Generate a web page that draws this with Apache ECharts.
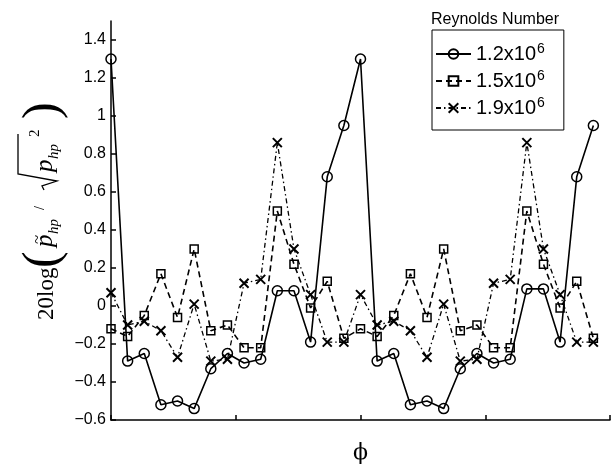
<!DOCTYPE html>
<html>
<head>
<meta charset="utf-8">
<script src="https://cdn.jsdelivr.net/npm/echarts@6/dist/echarts.min.js"></script>
<style>
  html, body { margin: 0; padding: 0; background: #fff; }
  #chart { width: 616px; height: 469px; }
</style>
</head>
<body>
<div id="chart"></div>
<script>
// phi positions (one point per step)
const phi = [0,1,2,3,4,5,6,7,8,9,10,11,12,13,14,15,16,17,18,19,20,21,22,23,24,25,26,27,28,29];

// Re = 1.2x10^6 (circles, solid)
const re12 = [1.30,-0.29,-0.25,-0.52,-0.50,-0.54,-0.33,-0.25,-0.30,-0.28,0.08,0.08,-0.19,0.68,0.95,
              1.30,-0.29,-0.25,-0.52,-0.50,-0.54,-0.33,-0.25,-0.30,-0.28,0.09,0.09,-0.19,0.68,0.95];
// Re = 1.5x10^6 (squares, dashed)
const re15 = [-0.12,-0.16,-0.05,0.17,-0.06,0.30,-0.13,-0.10,-0.22,-0.22,0.50,0.22,-0.01,0.13,-0.17,
              -0.12,-0.16,-0.05,0.17,-0.06,0.30,-0.13,-0.10,-0.22,-0.22,0.50,0.22,-0.01,0.13,-0.17];
// Re = 1.9x10^6 (crosses, dash-dot)
const re19 = [0.07,-0.10,-0.08,-0.13,-0.27,0.01,-0.29,-0.28,0.12,0.14,0.86,0.30,0.06,-0.19,-0.19,
              0.06,-0.10,-0.08,-0.13,-0.27,0.01,-0.29,-0.28,0.12,0.14,0.86,0.30,0.06,-0.19,-0.19];

const legendNames = ['1.2x10^6', '1.5x10^6', '1.9x10^6'];

const pairs = (ys) => phi.map((x, i) => [x, ys[i]]);

const chart = echarts.init(document.getElementById('chart'));

const serif = 'Liberation Serif';
// y given is the bottom of the text box
const txt = (s, x, y, size, italic) => ({
    type: 'text', x: x, y: y,
    style: {
        text: s, fill: '#000', font: (italic ? 'italic ' : '') + size + 'px "' + serif + '"',
        verticalAlign: 'bottom'
    }
});

// y axis title: 20log( p~_hp / sqrt(overline(p_hp^2)) ), laid out along the text and rotated
const yTitle = {
    type: 'group',
    x: 0,
    y: 320,
    rotation: Math.PI / 2,
    children: [
        txt('20log', 0, 58, 23, false),
        txt('(', 52, 69, 50, false),
        txt('p', 73, 58, 25, true),
        txt('~', 76, 46, 17, false),
        txt('hp', 86, 62, 15, true),
        txt('/', 110, 47, 14, false),
        {
            type: 'polyline',
            shape: { points: [[130, 44], [134, 42], [139, 57], [146, 18], [186, 18]] },
            style: { stroke: '#000', lineWidth: 1.3, fill: null }
        },
        txt('p', 148, 58, 25, true),
        txt('hp', 161, 62, 15, true),
        txt('2', 183, 43, 15, false),
        txt(')', 201, 69, 50, false)
    ]
};

chart.setOption({
    backgroundColor: '#fff',
    animation: false,
    grid: { left: 111, right: 6, top: 21, bottom: 42 },
    title: {
        text: 'Reynolds Number',
        left: 490,
        top: 7,
        textAlign: 'center',
        textStyle: { fontFamily: 'Liberation Sans', fontSize: 16, fontWeight: 'normal', color: '#000' }
    },
    legend: {
        orient: 'vertical',
        left: 432,
        top: 30,
        width: 120,
        padding: [12, 19, 12, 3],
        itemGap: 5,
        itemWidth: 35,
        itemHeight: 12,
        borderColor: '#000',
        borderWidth: 1,
        borderRadius: 0,
        backgroundColor: '#fff',
        data: legendNames,
        formatter: (name) => {
            const parts = name.split('^');
            return '{a|' + parts[0] + '}{s|' + parts[1] + '}';
        },
        textStyle: {
            color: '#000',
            rich: {
                a: { fontFamily: 'Liberation Sans', fontSize: 20, lineHeight: 24, color: '#000' },
                s: { fontFamily: 'Liberation Sans', fontSize: 14, lineHeight: 24, color: '#000', verticalAlign: 'top', padding: [0, 0, 6, 1] }
            }
        }
    },
    xAxis: {
        type: 'value',
        min: 0,
        max: 30,
        interval: 7.5,
        name: 'ϕ',
        nameLocation: 'middle',
        nameGap: 22,
        nameTextStyle: { fontFamily: 'DejaVu Serif', fontSize: 22, color: '#000' },
        axisLine: { onZero: false, lineStyle: { color: '#000', width: 1.5 } },
        axisTick: { inside: true, length: 5, lineStyle: { color: '#000', width: 1.5 } },
        axisLabel: { show: false },
        splitLine: { show: false }
    },
    yAxis: {
        type: 'value',
        min: -0.6,
        max: 1.5,
        interval: 0.2,
        axisLine: { show: true, onZero: false, lineStyle: { color: '#000', width: 1.5 } },
        axisTick: { show: true, inside: true, length: 5, lineStyle: { color: '#000', width: 1.5 } },
        axisLabel: {
            color: '#000',
            fontFamily: 'Liberation Sans',
            fontSize: 16,
            margin: 5,
            showMaxLabel: false,
            formatter: (v) => {
                const r = Math.round(v * 10) / 10;
                if (r > 1.45) return '';
                return (r < 0 ? '\u2212' + Math.abs(r) : String(r));
            }
        },
        splitLine: { show: false }
    },
    graphic: [yTitle],
    series: [
        {
            name: legendNames[0],
            type: 'line',
            data: pairs(re12),
            symbol: 'circle',
            symbolSize: 10,
            itemStyle: { color: 'rgba(0,0,0,0)', borderColor: '#000', borderWidth: 1.5 },
            lineStyle: { color: '#000', width: 1.6, type: 'solid' },
            z: 3
        },
        {
            name: legendNames[1],
            type: 'line',
            data: pairs(re15),
            symbol: 'rect',
            symbolSize: 8,
            itemStyle: { color: 'rgba(0,0,0,0)', borderColor: '#000', borderWidth: 1.5 },
            lineStyle: { color: '#000', width: 1.6, type: [6, 4] },
            z: 2
        },
        {
            name: legendNames[2],
            type: 'line',
            data: pairs(re19),
            symbol: 'path://M0,0L10,10M10,0L0,10',
            symbolSize: 9,
            itemStyle: { color: 'rgba(0,0,0,0)', borderColor: '#000', borderWidth: 2 },
            lineStyle: { color: '#000', width: 1.3, type: [5, 3, 1.5, 3] },
            z: 1
        }
    ]
});
</script>
</body>
</html>
